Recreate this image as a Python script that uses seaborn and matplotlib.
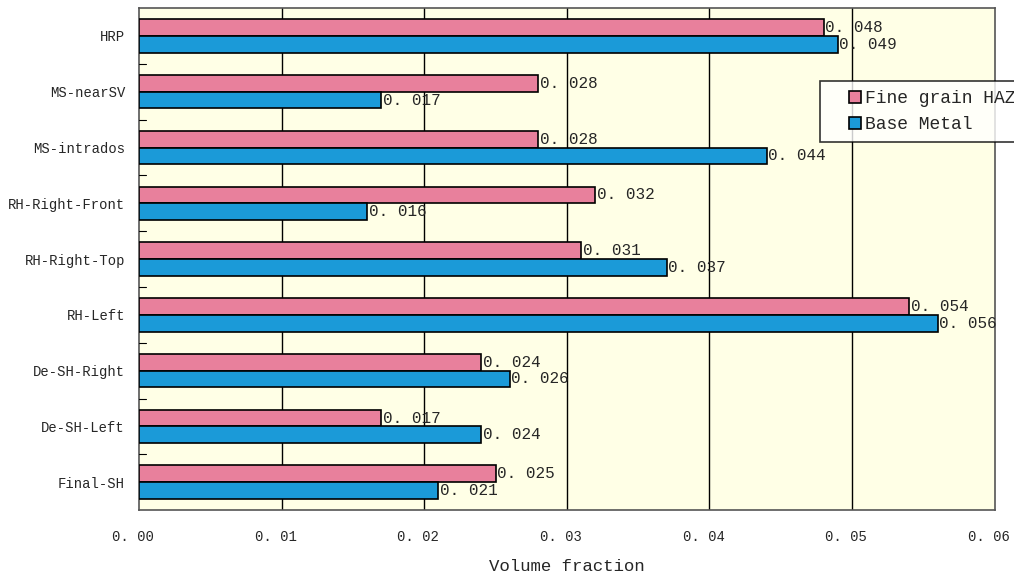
import matplotlib
matplotlib.use("Agg")
import matplotlib.pyplot as plt
import matplotlib.transforms as mtrans
from matplotlib.lines import Line2D
import seaborn as sns
import pandas as pd

locations = ["HRP", "MS-nearSV", "MS-intrados", "RH-Right-Front", "RH-Right-Top",
             "RH-Left", "De-SH-Right", "De-SH-Left", "Final-SH"]
fine_grain_haz = [0.048, 0.028, 0.028, 0.032, 0.031, 0.054, 0.024, 0.017, 0.025]
base_metal = [0.049, 0.017, 0.044, 0.016, 0.037, 0.056, 0.026, 0.024, 0.021]
series_names = ["Fine grain HAZ", "Base Metal"]
x_ticks = [0.0, 0.01, 0.02, 0.03, 0.04, 0.05, 0.06]
x_tick_labels = ["0. 00", "0. 01", "0. 02", "0. 03", "0. 04", "0. 05", "0. 06"]

df = pd.DataFrame({
    "location": locations * 2,
    "value": fine_grain_haz + base_metal,
    "series": [series_names[0]] * len(locations) + [series_names[1]] * len(locations),
})

sns.set_style("white")
plt.rcParams["font.family"] = ["Liberation Mono", "DejaVu Sans Mono"]

fig = plt.figure(figsize=(10.14, 5.77), dpi=100)
ax = fig.add_axes([0.137, 0.116, 0.844, 0.870])
ax.set_facecolor("#FFFFE6")

palette = {"Fine grain HAZ": "#E8809C", "Base Metal": "#1B9AD8"}
sns.barplot(data=df, y="location", x="value", hue="series", order=locations,
            hue_order=series_names, palette=palette, orient="h", width=0.6,
            edgecolor="black", linewidth=1.2, saturation=1, ax=ax, zorder=3,
            legend=False)

# value labels
for cont in ax.containers:
    for bar in cont:
        w = bar.get_width()
        y = bar.get_y() + bar.get_height() / 2
        ax.text(w + 0.0001, y, "0. %03d" % round(w * 1000), va="center",
                ha="left", fontsize=11.5, zorder=5)

ax.set_xlim(0, 0.06)
ax.set_ylim(len(locations) - 0.5, -0.5)
ax.set_xticks(x_ticks)
ax.set_xticklabels(x_tick_labels, fontsize=10)
ax.tick_params(axis="y", labelsize=10, length=0, pad=10)
ax.tick_params(axis="x", length=0, pad=14)
shift = mtrans.ScaledTranslation(-6 / 100, 0, fig.dpi_scale_trans)
for lbl in ax.get_xticklabels():
    lbl.set_transform(lbl.get_transform() + shift)
for xv in x_ticks[1:-1]:
    ax.axvline(xv, color="black", linewidth=1, zorder=1)
for yv in range(len(locations) - 1):
    ax.plot([0, 0.0005], [yv + 0.5, yv + 0.5], color="black", linewidth=0.8, zorder=4)

for s in ax.spines.values():
    s.set_color("#555555")
    s.set_linewidth(1.2)

ax.set_ylabel("")
ax.set_xlabel("Volume fraction", fontsize=12.5, labelpad=11)

# legend: square markers sitting well inside the box, box runs off the right edge
handles = [Line2D([], [], marker="s", linestyle="", markersize=8,
                  markerfacecolor=palette[n], markeredgecolor="black",
                  markeredgewidth=1.2) for n in series_names]
leg = ax.legend(handles, series_names, loc="upper left",
                bbox_to_anchor=(0.7955, 0.855), fontsize=13, numpoints=1,
                frameon=True, fancybox=False, edgecolor="black",
                handlelength=2.9, handletextpad=-0.9,
                borderpad=0.5, labelspacing=0.5, borderaxespad=0)
leg.get_frame().set_linewidth(1.2)
leg.get_frame().set_facecolor("white")

fig.savefig("out.png", dpi=100)
